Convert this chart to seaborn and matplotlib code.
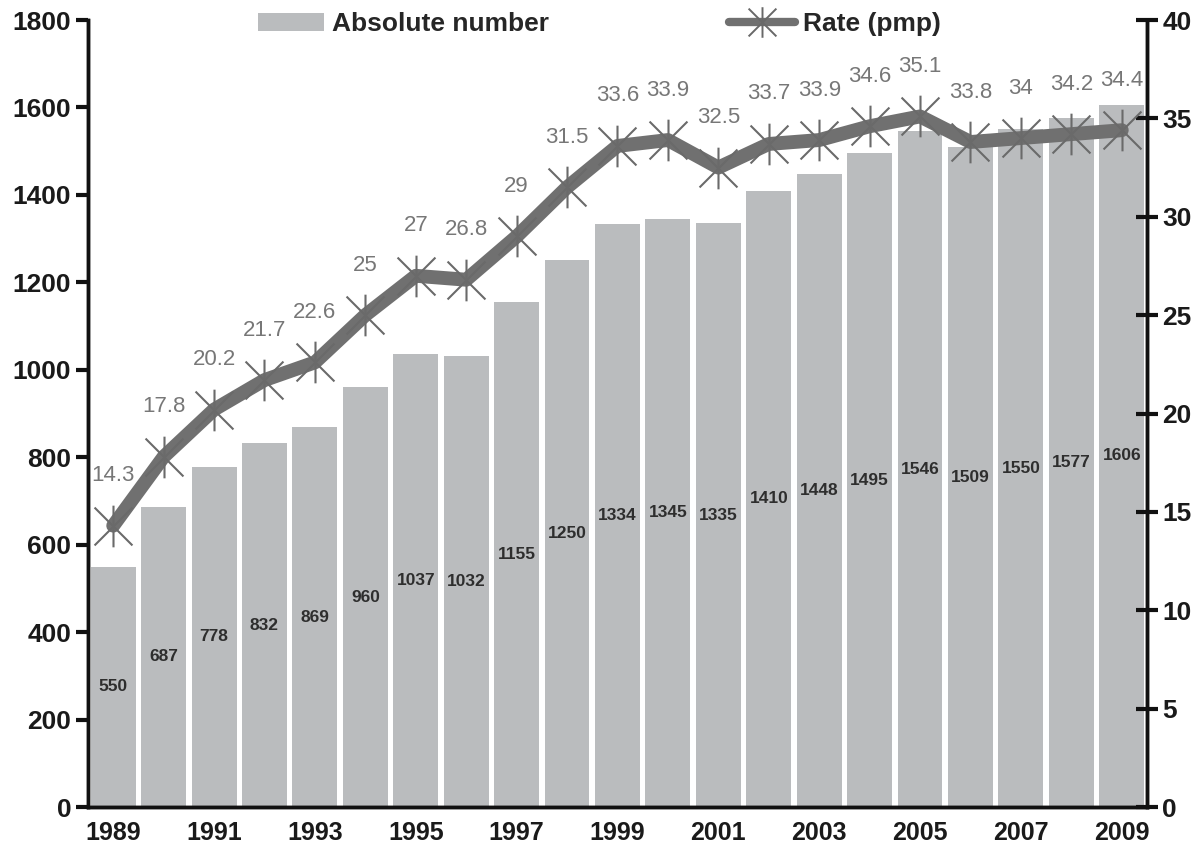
import numpy as np
import pandas as pd
import seaborn as sns
import matplotlib.pyplot as plt
from matplotlib.path import Path
from matplotlib.patches import Patch

# data
years = list(range(1989, 2010))
absolute = [550, 687, 778, 832, 869, 960, 1037, 1032, 1155, 1250, 1334,
            1345, 1335, 1410, 1448, 1495, 1546, 1509, 1550, 1577, 1606]
rate = [14.3, 17.8, 20.2, 21.7, 22.6, 25, 27, 26.8, 29, 31.5, 33.6,
        33.9, 32.5, 33.7, 33.9, 34.6, 35.1, 33.8, 34, 34.2, 34.4]

df = pd.DataFrame({'year': [str(y) for y in years], 'absolute': absolute, 'rate': rate})
df['pos'] = np.arange(len(df))

sns.set_style('white')
plt.rcParams['font.family'] = ['Liberation Sans Narrow', 'Liberation Sans', 'DejaVu Sans']

bar_color = '#babcbe'
line_color = '#707070'

fig = plt.figure(figsize=(11.99, 8.52), dpi=100)
ax = fig.add_axes([0.0734, 0.0528, 0.8832, 0.9237])
ax2 = ax.twinx()

# bars
sns.barplot(data=df, x='year', y='absolute', color=bar_color, saturation=1,
            width=0.89, linewidth=0, ax=ax)
ax.bar_label(ax.containers[0], labels=[str(v) for v in absolute], label_type='center',
             fontsize=12.5, color='#2e2e2e', fontweight='bold')

# asterisk marker: X plus a vertical stroke
star = Path([(-1, -1), (1, 1), (-1, 1), (1, -1), (0, -1.1), (0, 1.1)],
            [Path.MOVETO, Path.LINETO, Path.MOVETO, Path.LINETO, Path.MOVETO, Path.LINETO])

sns.lineplot(data=df, x='pos', y='rate', ax=ax2, color=line_color, linewidth=10,
             marker=star, markersize=30, markeredgewidth=1.5, markeredgecolor='#6a6a6a',
             markerfacecolor='none', legend=False)
for i, r in enumerate(rate):
    ax2.annotate(f'{r:g}', (i, r), xytext=(0, 36), textcoords='offset points',
                 ha='center', va='center', fontsize=16, color='#777777')

# axes
ax.set_xlim(-0.5, len(years) - 0.5)
ax.set_ylim(0, 1800)
ax2.set_ylim(0, 40)
ax.set_yticks(range(0, 1801, 200))
ax2.set_yticks(range(0, 41, 5))
ax.set_xticks(range(0, len(years), 2))
ax.set_xticklabels([str(y) for y in years[::2]])
ax.set_xticks(np.arange(-0.5, len(years), 1), minor=True)
for a in (ax, ax2):
    a.set_xlabel('')
    a.set_ylabel('')
    a.spines['top'].set_visible(False)
    for s in ('left', 'right', 'bottom'):
        a.spines[s].set_linewidth(2.5)
        a.spines[s].set_color('#111111')

ax.tick_params(axis='x', which='major', length=0, pad=10, labelsize=18)
ax.tick_params(axis='x', which='minor', length=8, width=3, direction='out', color='#111111')
ax.tick_params(axis='y', length=9, width=3, direction='out', labelsize=19, pad=3, color='#111111')
ax2.tick_params(axis='y', length=16, width=3, direction='inout', labelsize=19, pad=3, color='#111111')
for lab in ax.get_xticklabels() + ax.get_yticklabels() + ax2.get_yticklabels():
    lab.set_fontweight('bold')
    lab.set_color('#1a1a1a')

# legend
handles = [Patch(facecolor=bar_color, edgecolor='none'),
           plt.Line2D([], [], color=line_color, linewidth=6, marker=star, markersize=22,
                      markeredgewidth=1.4, markeredgecolor='#686868', markerfacecolor='none')]
fig.legend(handles, ['Absolute number', 'Rate (pmp)'], loc='center',
           bbox_to_anchor=(0.5, 1 - 24 / 852), ncol=2, frameon=False,
           prop={'size': 19, 'weight': 'bold'}, handlelength=2.5, handletextpad=0.3,
           columnspacing=6.8)

fig.savefig('out.png', dpi=100)
